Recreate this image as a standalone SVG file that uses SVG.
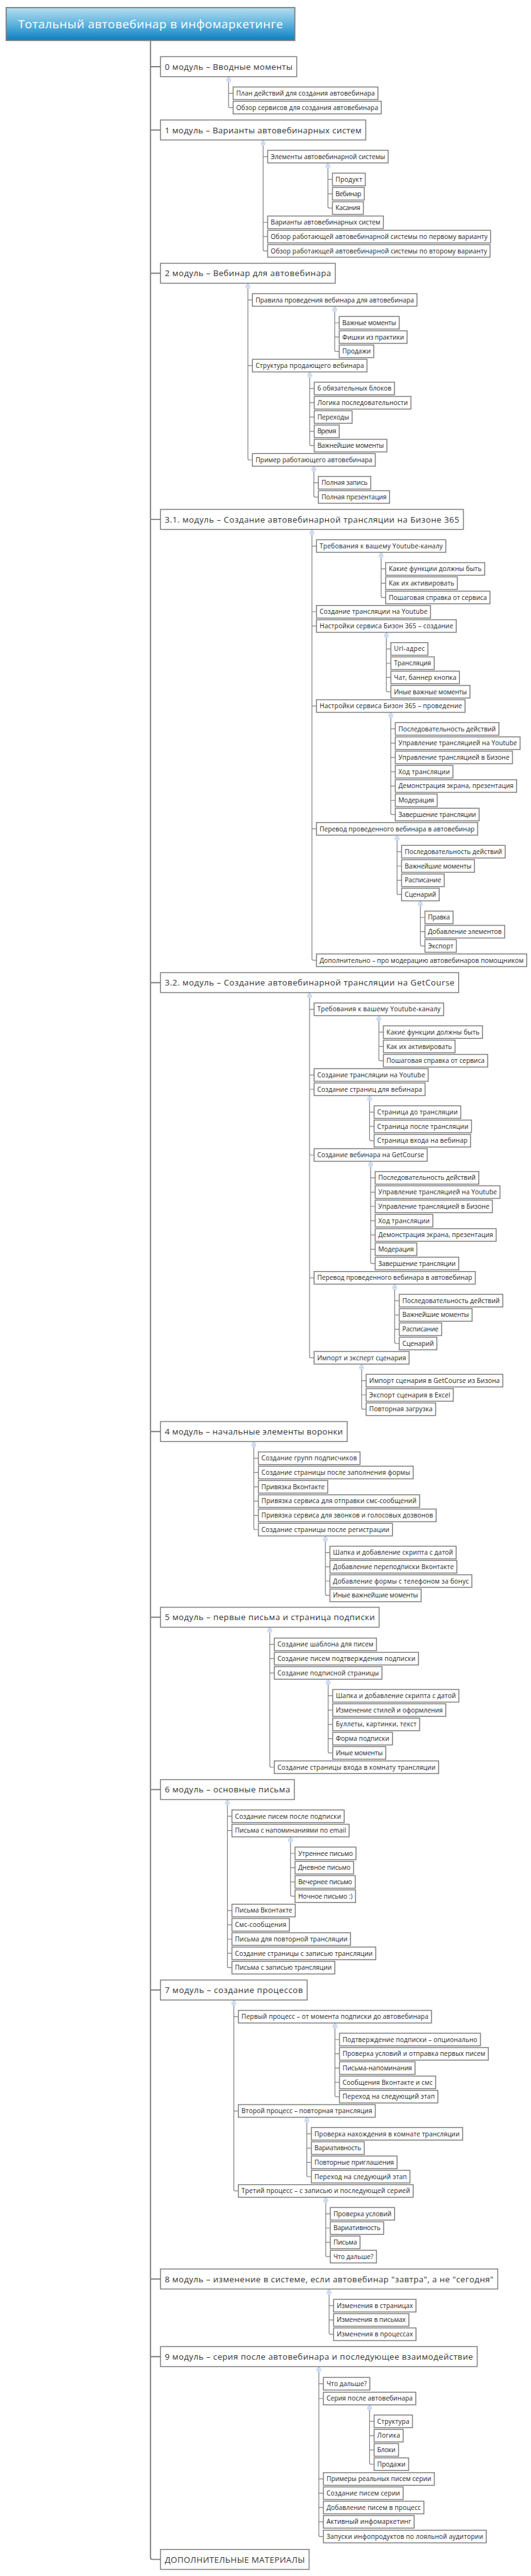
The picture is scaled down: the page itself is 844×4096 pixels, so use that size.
<svg xmlns="http://www.w3.org/2000/svg" xmlns:xlink="http://www.w3.org/1999/xlink" width="844" height="4096" viewBox="0 0 844 4096">
<defs>
<linearGradient id="tg" x1="0" y1="0" x2="0" y2="1">
<stop offset="0" stop-color="#b6deee"/><stop offset="0.5" stop-color="#5fb3de"/><stop offset="1" stop-color="#0a7fc1"/>
</linearGradient>
<g id="tog"><circle r="4.5" fill="#e2ecfc" stroke="#a9c1ea" stroke-width="1"/><path d="M-2.2 0H2.2" stroke="#7d9bd0" stroke-width="1"/></g>
<style>
.b{fill:#fff;stroke:#808080;stroke-width:2}
.t{font-family:'Open Sans','DejaVu Sans',sans-serif;font-size:13.5px;fill:#1e1e1e}
.m{font-size:17.5px;fill:#333}
.c{fill:none;stroke:#808080;stroke-width:1.6}
.tr{stroke-width:2.6}
</style>
</defs>
<rect width="844" height="4096" fill="#fff"/>
<g transform="scale(0.757)">
<g id="connectors">
<path class="c tr" d="M316 85V5372Q316 5376 320 5376H337M316 140H337M316 273H337M316 574H337M316 1091H337M316 2064H337M316 3007H337M316 3397H337M316 3759H337M316 4180H337M316 4787H337M316 4950H337"/>
<path class="c" d="M480 161V223Q480 226 483 226H489.5M480 196H489.5"/>
<path class="c" d="M552.5 294V524Q552.5 527 555.5 527H562M552.5 329H562M552.5 467H562M552.5 497H562"/>
<path class="c" d="M688.5 342.25V434Q688.5 437 691.5 437H698M688.5 377H698M688.5 407H698"/>
<path class="c" d="M520.5 595V963Q520.5 966 523.5 966H530M520.5 630H530M520.5 768H530"/>
<path class="c" d="M702.75 643.25V735Q702.75 738 705.75 738H712.25M702.75 678H712.25M702.75 708H712.25"/>
<path class="c" d="M650.3 781.25V933Q650.3 936 653.3 936H659.8M650.3 816H659.8M650.3 846H659.8M650.3 876H659.8M650.3 906H659.8"/>
<path class="c" d="M659 979.25V1041Q659 1044 662 1044H668.5M659 1014H668.5"/>
<path class="c" d="M655 1112V2014Q655 2017 658 2017H664.5M655 1147H664.5M655 1285H664.5M655 1315H664.5M655 1483H664.5M655 1741H664.5"/>
<path class="c" d="M800.25 1160.25V1252Q800.25 1255 803.25 1255H809.75M800.25 1195H809.75M800.25 1225H809.75"/>
<path class="c" d="M811.25 1328.25V1450Q811.25 1453 814.25 1453H820.75M811.25 1363H820.75M811.25 1393H820.75M811.25 1423H820.75"/>
<path class="c" d="M820.5 1496.25V1708Q820.5 1711 823.5 1711H830M820.5 1531H830M820.5 1561H830M820.5 1591H830M820.5 1621H830M820.5 1651H830M820.5 1681H830"/>
<path class="c" d="M833.75 1754.25V1876Q833.75 1879 836.75 1879H843.25M833.75 1789H843.25M833.75 1819H843.25M833.75 1849H843.25"/>
<path class="c" d="M882.75 1892.25V1984Q882.75 1987 885.75 1987H892.25M882.75 1927H892.25M882.75 1957H892.25"/>
<path class="c" d="M650 2085V2849Q650 2852 653 2852H659.5M650 2120H659.5M650 2258H659.5M650 2288H659.5M650 2426H659.5M650 2684H659.5"/>
<path class="c" d="M795.5 2133.25V2225Q795.5 2228 798.5 2228H805M795.5 2168H805M795.5 2198H805"/>
<path class="c" d="M776 2301.25V2393Q776 2396 779 2396H785.5M776 2336H785.5M776 2366H785.5"/>
<path class="c" d="M778.25 2439.25V2651Q778.25 2654 781.25 2654H787.75M778.25 2474H787.75M778.25 2504H787.75M778.25 2534H787.75M778.25 2564H787.75M778.25 2594H787.75M778.25 2624H787.75"/>
<path class="c" d="M828.75 2697.25V2819Q828.75 2822 831.75 2822H838.25M828.75 2732H838.25M828.75 2762H838.25M828.75 2792H838.25"/>
<path class="c" d="M759.25 2865.25V2957Q759.25 2960 762.25 2960H768.75M759.25 2900H768.75M759.25 2930H768.75"/>
<path class="c" d="M533 3028V3210Q533 3213 536 3213H542.5M533 3063H542.5M533 3093H542.5M533 3123H542.5M533 3153H542.5M533 3183H542.5"/>
<path class="c" d="M683.25 3226.25V3348Q683.25 3351 686.25 3351H692.75M683.25 3261H692.75M683.25 3291H692.75M683.25 3321H692.75"/>
<path class="c" d="M566.5 3418V3709Q566.5 3712 569.5 3712H576M566.5 3454H576M566.5 3484H576M566.5 3514H576"/>
<path class="c" d="M689 3527.25V3679Q689 3682 692 3682H698.5M689 3562H698.5M689 3592H698.5M689 3622H698.5M689 3652H698.5"/>
<path class="c" d="M477.5 3780V4130Q477.5 4133 480.5 4133H487M477.5 3815H487M477.5 3845H487M477.5 4013H487M477.5 4043H487M477.5 4073H487M477.5 4103H487"/>
<path class="c" d="M610 3858.25V3980Q610 3983 613 3983H619.5M610 3893H619.5M610 3923H619.5M610 3953H619.5"/>
<path class="c" d="M491 4201V4599Q491 4602 494 4602H500.5M491 4236H500.5M491 4434H500.5"/>
<path class="c" d="M703.25 4249.25V4401Q703.25 4404 706.25 4404H712.75M703.25 4284H712.75M703.25 4314H712.75M703.25 4344H712.75M703.25 4374H712.75"/>
<path class="c" d="M644.25 4447.25V4569Q644.25 4572 647.25 4572H653.75M644.25 4482H653.75M644.25 4512H653.75M644.25 4542H653.75"/>
<path class="c" d="M684 4615.25V4737Q684 4740 687 4740H693.5M684 4650H693.5M684 4680H693.5M684 4710H693.5"/>
<path class="c" d="M691 4808V4900Q691 4903 694 4903H700.5M691 4843H700.5M691 4873H700.5"/>
<path class="c" d="M669.5 4971V5325Q669.5 5328 672.5 5328H679M669.5 5007H679M669.5 5038H679M669.5 5207H679M669.5 5237H679M669.5 5267H679M669.5 5297H679"/>
<path class="c" d="M776 5051.25V5173Q776 5176 779 5176H785.5M776 5086H785.5M776 5116H785.5M776 5146H785.5"/>
<use xlink:href="#tog" x="480" y="168"/><use xlink:href="#tog" x="552.5" y="301"/><use xlink:href="#tog" x="688.5" y="349.25"/><use xlink:href="#tog" x="520.5" y="602"/><use xlink:href="#tog" x="702.75" y="650.25"/><use xlink:href="#tog" x="650.3" y="788.25"/><use xlink:href="#tog" x="659" y="986.25"/><use xlink:href="#tog" x="655" y="1119"/><use xlink:href="#tog" x="800.25" y="1167.25"/><use xlink:href="#tog" x="811.25" y="1335.25"/><use xlink:href="#tog" x="820.5" y="1503.25"/><use xlink:href="#tog" x="833.75" y="1761.25"/><use xlink:href="#tog" x="882.75" y="1899.25"/><use xlink:href="#tog" x="650" y="2092"/><use xlink:href="#tog" x="795.5" y="2140.25"/><use xlink:href="#tog" x="776" y="2308.25"/><use xlink:href="#tog" x="778.25" y="2446.25"/><use xlink:href="#tog" x="828.75" y="2704.25"/><use xlink:href="#tog" x="759.25" y="2872.25"/><use xlink:href="#tog" x="533" y="3035"/><use xlink:href="#tog" x="683.25" y="3233.25"/><use xlink:href="#tog" x="566.5" y="3425"/><use xlink:href="#tog" x="689" y="3534.25"/><use xlink:href="#tog" x="477.5" y="3787"/><use xlink:href="#tog" x="610" y="3865.25"/><use xlink:href="#tog" x="491" y="4208"/><use xlink:href="#tog" x="703.25" y="4256.25"/><use xlink:href="#tog" x="644.25" y="4454.25"/><use xlink:href="#tog" x="684" y="4622.25"/><use xlink:href="#tog" x="691" y="4815"/><use xlink:href="#tog" x="669.5" y="4978"/><use xlink:href="#tog" x="776" y="5058.25"/>
</g>
<g id="title"><rect x="13" y="16" width="606" height="69" fill="url(#tg)" stroke="#808080" stroke-width="2.5"/><text class="t" x="316" y="59.5" text-anchor="middle" style="font-size:25px;fill:#fff" textLength="556">Тотальный автовебинар в инфомаркетинге</text></g>
<g id="m0"><rect class="b" x="337" y="119" width="286" height="42"/><text class="t m" x="346" y="146.5" textLength="268">0 модуль – Вводные моменты</text></g>
<g id="n1"><rect class="b" x="489.5" y="182.75" width="304" height="26.5"/><text class="t" x="496" y="200.8" textLength="291">План действий для создания автовебинара</text></g>
<g id="n2"><rect class="b" x="489.5" y="212.75" width="311" height="26.5"/><text class="t" x="496" y="230.8" textLength="298">Обзор сервисов для создания автовебинара</text></g>
<g id="m1"><rect class="b" x="337" y="252" width="431" height="42"/><text class="t m" x="346" y="279.5" textLength="413">1 модуль – Варианты автовебинарных систем</text></g>
<g id="n3"><rect class="b" x="562" y="315.75" width="253" height="26.5"/><text class="t" x="568.5" y="333.8" textLength="240">Элементы автовебинарной системы</text></g>
<g id="n4"><rect class="b" x="698" y="363.75" width="69" height="26.5"/><text class="t" x="704.5" y="381.8" textLength="56">Продукт</text></g>
<g id="n5"><rect class="b" x="698" y="393.75" width="67" height="26.5"/><text class="t" x="704.5" y="411.8" textLength="54">Вебинар</text></g>
<g id="n6"><rect class="b" x="698" y="423.75" width="65" height="26.5"/><text class="t" x="704.5" y="441.8" textLength="52">Касания</text></g>
<g id="n7"><rect class="b" x="562" y="453.75" width="243" height="26.5"/><text class="t" x="568.5" y="471.8" textLength="230">Варианты автовебинарных систем</text></g>
<g id="n8"><rect class="b" x="562" y="483.75" width="468" height="26.5"/><text class="t" x="568.5" y="501.8" textLength="455">Обзор работающей автовебинарной системы по первому варианту</text></g>
<g id="n9"><rect class="b" x="562" y="513.75" width="467" height="26.5"/><text class="t" x="568.5" y="531.8" textLength="454">Обзор работающей автовебинарной системы по второму варианту</text></g>
<g id="m2"><rect class="b" x="337" y="553" width="367" height="42"/><text class="t m" x="346" y="580.5" textLength="349">2 модуль – Вебинар для автовебинара</text></g>
<g id="n10"><rect class="b" x="530" y="616.75" width="345.5" height="26.5"/><text class="t" x="536.5" y="634.8" textLength="332.5">Правила проведения вебинара для автовебинара</text></g>
<g id="n11"><rect class="b" x="712.25" y="664.75" width="126" height="26.5"/><text class="t" x="718.75" y="682.8" textLength="113">Важные моменты</text></g>
<g id="n12"><rect class="b" x="712.25" y="694.75" width="142.5" height="26.5"/><text class="t" x="718.75" y="712.8" textLength="129.5">Фишки из практики</text></g>
<g id="n13"><rect class="b" x="712.25" y="724.75" width="72.5" height="26.5"/><text class="t" x="718.75" y="742.8" textLength="59.5">Продажи</text></g>
<g id="n14"><rect class="b" x="530" y="754.75" width="240.6" height="26.5"/><text class="t" x="536.5" y="772.8" textLength="227.6">Структура продающего вебинара</text></g>
<g id="n15"><rect class="b" x="659.8" y="802.75" width="168.5" height="26.5"/><text class="t" x="666.3" y="820.8" textLength="155.5">6 обязательных блоков</text></g>
<g id="n16"><rect class="b" x="659.8" y="832.75" width="203" height="26.5"/><text class="t" x="666.3" y="850.8" textLength="190">Логика последовательности</text></g>
<g id="n17"><rect class="b" x="659.8" y="862.75" width="79.5" height="26.5"/><text class="t" x="666.3" y="880.8" textLength="66.5">Переходы</text></g>
<g id="n18"><rect class="b" x="659.8" y="892.75" width="52.5" height="26.5"/><text class="t" x="666.3" y="910.8" textLength="39.5">Время</text></g>
<g id="n19"><rect class="b" x="659.8" y="922.75" width="152.5" height="26.5"/><text class="t" x="666.3" y="940.8" textLength="139.5">Важнейшие моменты</text></g>
<g id="n20"><rect class="b" x="530" y="952.75" width="258" height="26.5"/><text class="t" x="536.5" y="970.8" textLength="245">Пример работающего автовебинара</text></g>
<g id="n21"><rect class="b" x="668.5" y="1000.75" width="110" height="26.5"/><text class="t" x="675" y="1018.8" textLength="97">Полная запись</text></g>
<g id="n22"><rect class="b" x="668.5" y="1030.75" width="149.5" height="26.5"/><text class="t" x="675" y="1048.8" textLength="136.5">Полная презентация</text></g>
<g id="m31"><rect class="b" x="337" y="1070" width="636" height="42"/><text class="t m" x="346" y="1097.5" textLength="618">3.1. модуль – Создание автовебинарной трансляции на Бизоне 365</text></g>
<g id="n23"><rect class="b" x="664.5" y="1133.75" width="271.5" height="26.5"/><text class="t" x="671" y="1151.8" textLength="258.5">Требования к вашему Youtube-каналу</text></g>
<g id="n24"><rect class="b" x="809.75" y="1181.75" width="208" height="26.5"/><text class="t" x="816.25" y="1199.8" textLength="195">Какие функции должны быть</text></g>
<g id="n25"><rect class="b" x="809.75" y="1211.75" width="150.5" height="26.5"/><text class="t" x="816.25" y="1229.8" textLength="137.5">Как их активировать</text></g>
<g id="n26"><rect class="b" x="809.75" y="1241.75" width="219" height="26.5"/><text class="t" x="816.25" y="1259.8" textLength="206">Пошаговая справка от сервиса</text></g>
<g id="n27"><rect class="b" x="664.5" y="1271.75" width="239.5" height="26.5"/><text class="t" x="671" y="1289.8" textLength="226.5">Создание трансляции на Youtube</text></g>
<g id="n28"><rect class="b" x="664.5" y="1301.75" width="293.5" height="26.5"/><text class="t" x="671" y="1319.8" textLength="280.5">Настройки сервиса Бизон 365 – создание</text></g>
<g id="n29"><rect class="b" x="820.75" y="1349.75" width="77.6" height="26.5"/><text class="t" x="827.25" y="1367.8" textLength="64.6">Url-адрес</text></g>
<g id="n30"><rect class="b" x="820.75" y="1379.75" width="91" height="26.5"/><text class="t" x="827.25" y="1397.8" textLength="78">Трансляция</text></g>
<g id="n31"><rect class="b" x="820.75" y="1409.75" width="144" height="26.5"/><text class="t" x="827.25" y="1427.8" textLength="131">Чат, баннер кнопка</text></g>
<g id="n32"><rect class="b" x="820.75" y="1439.75" width="166" height="26.5"/><text class="t" x="827.25" y="1457.8" textLength="153">Иные важные моменты</text></g>
<g id="n33"><rect class="b" x="664.5" y="1469.75" width="312" height="26.5"/><text class="t" x="671" y="1487.8" textLength="299">Настройки сервиса Бизон 365 – проведение</text></g>
<g id="n34"><rect class="b" x="830" y="1517.75" width="217.6" height="26.5"/><text class="t" x="836.5" y="1535.8" textLength="204.6">Последовательность действий</text></g>
<g id="n35"><rect class="b" x="830" y="1547.75" width="262" height="26.5"/><text class="t" x="836.5" y="1565.8" textLength="249">Управление трансляцией на Youtube</text></g>
<g id="n36"><rect class="b" x="830" y="1577.75" width="246" height="26.5"/><text class="t" x="836.5" y="1595.8" textLength="233">Управление трансляцией в Бизоне</text></g>
<g id="n37"><rect class="b" x="830" y="1607.75" width="121" height="26.5"/><text class="t" x="836.5" y="1625.8" textLength="108">Ход трансляции</text></g>
<g id="n38"><rect class="b" x="830" y="1637.75" width="254.7" height="26.5"/><text class="t" x="836.5" y="1655.8" textLength="241.7">Демонстрация экрана, презентация</text></g>
<g id="n39"><rect class="b" x="830" y="1667.75" width="88" height="26.5"/><text class="t" x="836.5" y="1685.8" textLength="75">Модерация</text></g>
<g id="n40"><rect class="b" x="830" y="1697.75" width="176" height="26.5"/><text class="t" x="836.5" y="1715.8" textLength="163">Завершение трансляции</text></g>
<g id="n41"><rect class="b" x="664.5" y="1727.75" width="338.5" height="26.5"/><text class="t" x="671" y="1745.8" textLength="325.5">Перевод проведенного вебинара в автовебинар</text></g>
<g id="n42"><rect class="b" x="843.25" y="1775.75" width="217.5" height="26.5"/><text class="t" x="849.75" y="1793.8" textLength="204.5">Последовательность действий</text></g>
<g id="n43"><rect class="b" x="843.25" y="1805.75" width="153" height="26.5"/><text class="t" x="849.75" y="1823.8" textLength="140">Важнейшие моменты</text></g>
<g id="n44"><rect class="b" x="843.25" y="1835.75" width="89.5" height="26.5"/><text class="t" x="849.75" y="1853.8" textLength="76.5">Расписание</text></g>
<g id="n45"><rect class="b" x="843.25" y="1865.75" width="79" height="26.5"/><text class="t" x="849.75" y="1883.8" textLength="66">Сценарий</text></g>
<g id="n46"><rect class="b" x="892.25" y="1913.75" width="59" height="26.5"/><text class="t" x="898.75" y="1931.8" textLength="46">Правка</text></g>
<g id="n47"><rect class="b" x="892.25" y="1943.75" width="167.5" height="26.5"/><text class="t" x="898.75" y="1961.8" textLength="154.5">Добавление элементов</text></g>
<g id="n48"><rect class="b" x="892.25" y="1973.75" width="66" height="26.5"/><text class="t" x="898.75" y="1991.8" textLength="53">Экспорт</text></g>
<g id="n49"><rect class="b" x="664.5" y="2003.75" width="441.5" height="26.5"/><text class="t" x="671" y="2021.8" textLength="428.5">Дополнительно – про модерацию автовебинаров помощником</text></g>
<g id="m32"><rect class="b" x="337" y="2043" width="626" height="42"/><text class="t m" x="346" y="2070.5" textLength="608">3.2. модуль – Создание автовебинарной трансляции на GetCourse</text></g>
<g id="n50"><rect class="b" x="659.5" y="2106.75" width="272" height="26.5"/><text class="t" x="666" y="2124.8" textLength="259">Требования к вашему Youtube-каналу</text></g>
<g id="n51"><rect class="b" x="805" y="2154.75" width="208" height="26.5"/><text class="t" x="811.5" y="2172.8" textLength="195">Какие функции должны быть</text></g>
<g id="n52"><rect class="b" x="805" y="2184.75" width="150.5" height="26.5"/><text class="t" x="811.5" y="2202.8" textLength="137.5">Как их активировать</text></g>
<g id="n53"><rect class="b" x="805" y="2214.75" width="219" height="26.5"/><text class="t" x="811.5" y="2232.8" textLength="206">Пошаговая справка от сервиса</text></g>
<g id="n54"><rect class="b" x="659.5" y="2244.75" width="239.5" height="26.5"/><text class="t" x="666" y="2262.8" textLength="226.5">Создание трансляции на Youtube</text></g>
<g id="n55"><rect class="b" x="659.5" y="2274.75" width="233" height="26.5"/><text class="t" x="666" y="2292.8" textLength="220">Создание страниц для вебинара</text></g>
<g id="n56"><rect class="b" x="785.5" y="2322.75" width="182" height="26.5"/><text class="t" x="792" y="2340.8" textLength="169">Страница до трансляции</text></g>
<g id="n57"><rect class="b" x="785.5" y="2352.75" width="204.5" height="26.5"/><text class="t" x="792" y="2370.8" textLength="191.5">Страница после трансляции</text></g>
<g id="n58"><rect class="b" x="785.5" y="2382.75" width="202.5" height="26.5"/><text class="t" x="792" y="2400.8" textLength="189.5">Страница входа на вебинар</text></g>
<g id="n59"><rect class="b" x="659.5" y="2412.75" width="237.5" height="26.5"/><text class="t" x="666" y="2430.8" textLength="224.5">Создание вебинара на GetCourse</text></g>
<g id="n60"><rect class="b" x="787.75" y="2460.75" width="217.5" height="26.5"/><text class="t" x="794.25" y="2478.8" textLength="204.5">Последовательность действий</text></g>
<g id="n61"><rect class="b" x="787.75" y="2490.75" width="262" height="26.5"/><text class="t" x="794.25" y="2508.8" textLength="249">Управление трансляцией на Youtube</text></g>
<g id="n62"><rect class="b" x="787.75" y="2520.75" width="246" height="26.5"/><text class="t" x="794.25" y="2538.8" textLength="233">Управление трансляцией в Бизоне</text></g>
<g id="n63"><rect class="b" x="787.75" y="2550.75" width="121" height="26.5"/><text class="t" x="794.25" y="2568.8" textLength="108">Ход трансляции</text></g>
<g id="n64"><rect class="b" x="787.75" y="2580.75" width="254" height="26.5"/><text class="t" x="794.25" y="2598.8" textLength="241">Демонстрация экрана, презентация</text></g>
<g id="n65"><rect class="b" x="787.75" y="2610.75" width="87.5" height="26.5"/><text class="t" x="794.25" y="2628.8" textLength="74.5">Модерация</text></g>
<g id="n66"><rect class="b" x="787.75" y="2640.75" width="175.5" height="26.5"/><text class="t" x="794.25" y="2658.8" textLength="162.5">Завершение трансляции</text></g>
<g id="n67"><rect class="b" x="659.5" y="2670.75" width="338.5" height="26.5"/><text class="t" x="666" y="2688.8" textLength="325.5">Перевод проведенного вебинара в автовебинар</text></g>
<g id="n68"><rect class="b" x="838.25" y="2718.75" width="217.5" height="26.5"/><text class="t" x="844.75" y="2736.8" textLength="204.5">Последовательность действий</text></g>
<g id="n69"><rect class="b" x="838.25" y="2748.75" width="153" height="26.5"/><text class="t" x="844.75" y="2766.8" textLength="140">Важнейшие моменты</text></g>
<g id="n70"><rect class="b" x="838.25" y="2778.75" width="89" height="26.5"/><text class="t" x="844.75" y="2796.8" textLength="76">Расписание</text></g>
<g id="n71"><rect class="b" x="838.25" y="2808.75" width="79" height="26.5"/><text class="t" x="844.75" y="2826.8" textLength="66">Сценарий</text></g>
<g id="n72"><rect class="b" x="659.5" y="2838.75" width="199.5" height="26.5"/><text class="t" x="666" y="2856.8" textLength="186.5">Импорт и эксперт сценария</text></g>
<g id="n73"><rect class="b" x="768.75" y="2886.75" width="287" height="26.5"/><text class="t" x="775.25" y="2904.8" textLength="274">Импорт сценария в GetCourse из Бизона</text></g>
<g id="n74"><rect class="b" x="768.75" y="2916.75" width="183" height="26.5"/><text class="t" x="775.25" y="2934.8" textLength="170">Экспорт сценария в Excel</text></g>
<g id="n75"><rect class="b" x="768.75" y="2946.75" width="146" height="26.5"/><text class="t" x="775.25" y="2964.8" textLength="133">Повторная загрузка</text></g>
<g id="m4"><rect class="b" x="337" y="2986" width="392" height="42"/><text class="t m" x="346" y="3013.5" textLength="374">4 модуль – начальные элементы воронки</text></g>
<g id="n76"><rect class="b" x="542.5" y="3049.75" width="213.5" height="26.5"/><text class="t" x="549" y="3067.8" textLength="200.5">Создание групп подписчиков</text></g>
<g id="n77"><rect class="b" x="542.5" y="3079.75" width="325" height="26.5"/><text class="t" x="549" y="3097.8" textLength="312">Создание страницы после заполнения формы</text></g>
<g id="n78"><rect class="b" x="542.5" y="3109.75" width="145.5" height="26.5"/><text class="t" x="549" y="3127.8" textLength="132.5">Привязка Вконтакте</text></g>
<g id="n79"><rect class="b" x="542.5" y="3139.75" width="338.5" height="26.5"/><text class="t" x="549" y="3157.8" textLength="325.5">Привязка сервиса для отправки смс-сообщений</text></g>
<g id="n80"><rect class="b" x="542.5" y="3169.75" width="373.3" height="26.5"/><text class="t" x="549" y="3187.8" textLength="360.3">Привязка сервиса для звонков и голосовых дозвонов</text></g>
<g id="n81"><rect class="b" x="542.5" y="3199.75" width="281.5" height="26.5"/><text class="t" x="549" y="3217.8" textLength="268.5">Создание страницы после регистрации</text></g>
<g id="n82"><rect class="b" x="692.75" y="3247.75" width="265" height="26.5"/><text class="t" x="699.25" y="3265.8" textLength="252">Шапка и добавление скрипта с датой</text></g>
<g id="n83"><rect class="b" x="692.75" y="3277.75" width="266.5" height="26.5"/><text class="t" x="699.25" y="3295.8" textLength="253.5">Добавление переподписки Вконтакте</text></g>
<g id="n84"><rect class="b" x="692.75" y="3307.75" width="298" height="26.5"/><text class="t" x="699.25" y="3325.8" textLength="285">Добавление формы с телефоном за бонус</text></g>
<g id="n85"><rect class="b" x="692.75" y="3337.75" width="191.5" height="26.5"/><text class="t" x="699.25" y="3355.8" textLength="178.5">Иные важнейшие моменты</text></g>
<g id="m5"><rect class="b" x="337" y="3376" width="459" height="42"/><text class="t m" x="346" y="3403.5" textLength="441">5 модуль – первые письма и страница подписки</text></g>
<g id="n86"><rect class="b" x="576" y="3440.75" width="214.5" height="26.5"/><text class="t" x="582.5" y="3458.8" textLength="201.5">Создание шаблона для писем</text></g>
<g id="n87"><rect class="b" x="576" y="3470.75" width="302.7" height="26.5"/><text class="t" x="582.5" y="3488.8" textLength="289.7">Создание писем подтверждения подписки</text></g>
<g id="n88"><rect class="b" x="576" y="3500.75" width="226" height="26.5"/><text class="t" x="582.5" y="3518.8" textLength="213">Создание подписной страницы</text></g>
<g id="n89"><rect class="b" x="698.5" y="3548.75" width="265" height="26.5"/><text class="t" x="705" y="3566.8" textLength="252">Шапка и добавление скрипта с датой</text></g>
<g id="n90"><rect class="b" x="698.5" y="3578.75" width="237.5" height="26.5"/><text class="t" x="705" y="3596.8" textLength="224.5">Изменение стилей и оформления</text></g>
<g id="n91"><rect class="b" x="698.5" y="3608.75" width="182.5" height="26.5"/><text class="t" x="705" y="3626.8" textLength="169.5">Буллеты, картинки, текст</text></g>
<g id="n92"><rect class="b" x="698.5" y="3638.75" width="125.5" height="26.5"/><text class="t" x="705" y="3656.8" textLength="112.5">Форма подписки</text></g>
<g id="n93"><rect class="b" x="698.5" y="3668.75" width="111.5" height="26.5"/><text class="t" x="705" y="3686.8" textLength="98.5">Иные моменты</text></g>
<g id="n94"><rect class="b" x="576" y="3698.75" width="345" height="26.5"/><text class="t" x="582.5" y="3716.8" textLength="332">Создание страницы входа в комнату трансляции</text></g>
<g id="m6"><rect class="b" x="337" y="3738" width="281" height="42"/><text class="t m" x="346" y="3765.5" textLength="263">6 модуль – основные письма</text></g>
<g id="n95"><rect class="b" x="487" y="3801.75" width="235.7" height="26.5"/><text class="t" x="493.5" y="3819.8" textLength="222.7">Создание писем после подписки</text></g>
<g id="n96"><rect class="b" x="487" y="3831.75" width="246" height="26.5"/><text class="t" x="493.5" y="3849.8" textLength="233">Письма с напоминаниями по email</text></g>
<g id="n97"><rect class="b" x="619.5" y="3879.75" width="128" height="26.5"/><text class="t" x="626" y="3897.8" textLength="115">Утреннее письмо</text></g>
<g id="n98"><rect class="b" x="619.5" y="3909.75" width="123" height="26.5"/><text class="t" x="626" y="3927.8" textLength="110">Дневное письмо</text></g>
<g id="n99"><rect class="b" x="619.5" y="3939.75" width="126.4" height="26.5"/><text class="t" x="626" y="3957.8" textLength="113.4">Вечернее письмо</text></g>
<g id="n100"><rect class="b" x="619.5" y="3969.75" width="127" height="26.5"/><text class="t" x="626" y="3987.8" textLength="114">Ночное письмо :)</text></g>
<g id="n101"><rect class="b" x="487" y="3999.75" width="133" height="26.5"/><text class="t" x="493.5" y="4017.8" textLength="120">Письма Вконтакте</text></g>
<g id="n102"><rect class="b" x="487" y="4029.75" width="120.6" height="26.5"/><text class="t" x="493.5" y="4047.8" textLength="107.6">Смс-сообщения</text></g>
<g id="n103"><rect class="b" x="487" y="4059.75" width="249" height="26.5"/><text class="t" x="493.5" y="4077.8" textLength="236">Письма для повторной трансляции</text></g>
<g id="n104"><rect class="b" x="487" y="4089.75" width="302" height="26.5"/><text class="t" x="493.5" y="4107.8" textLength="289">Создание страницы с записью трансляции</text></g>
<g id="n105"><rect class="b" x="487" y="4119.75" width="216" height="26.5"/><text class="t" x="493.5" y="4137.8" textLength="203">Письма с записью трансляции</text></g>
<g id="m7"><rect class="b" x="337" y="4159" width="308" height="42"/><text class="t m" x="346" y="4186.5" textLength="290">7 модуль – создание процессов</text></g>
<g id="n106"><rect class="b" x="500.5" y="4222.75" width="405.5" height="26.5"/><text class="t" x="507" y="4240.8" textLength="392.5">Первый процесс – от момента подписки до автовебинара</text></g>
<g id="n107"><rect class="b" x="712.75" y="4270.75" width="296" height="26.5"/><text class="t" x="719.25" y="4288.8" textLength="283">Подтверждение подписки – опционально</text></g>
<g id="n108"><rect class="b" x="712.75" y="4300.75" width="312.6" height="26.5"/><text class="t" x="719.25" y="4318.8" textLength="299.6">Проверка условий и отправка первых писем</text></g>
<g id="n109"><rect class="b" x="712.75" y="4330.75" width="158.7" height="26.5"/><text class="t" x="719.25" y="4348.8" textLength="145.7">Письма-напоминания</text></g>
<g id="n110"><rect class="b" x="712.75" y="4360.75" width="202" height="26.5"/><text class="t" x="719.25" y="4378.8" textLength="189">Сообщения Вконтакте и смс</text></g>
<g id="n111"><rect class="b" x="712.75" y="4390.75" width="206.6" height="26.5"/><text class="t" x="719.25" y="4408.8" textLength="193.6">Переход на следующий этап</text></g>
<g id="n112"><rect class="b" x="500.5" y="4420.75" width="287.5" height="26.5"/><text class="t" x="507" y="4438.8" textLength="274.5">Второй процесс – повторная трансляция</text></g>
<g id="n113"><rect class="b" x="653.75" y="4468.75" width="317.7" height="26.5"/><text class="t" x="660.25" y="4486.8" textLength="304.7">Проверка нахождения в комнате трансляции</text></g>
<g id="n114"><rect class="b" x="653.75" y="4498.75" width="111" height="26.5"/><text class="t" x="660.25" y="4516.8" textLength="98">Вариативность</text></g>
<g id="n115"><rect class="b" x="653.75" y="4528.75" width="180" height="26.5"/><text class="t" x="660.25" y="4546.8" textLength="167">Повторные приглашения</text></g>
<g id="n116"><rect class="b" x="653.75" y="4558.75" width="207" height="26.5"/><text class="t" x="660.25" y="4576.8" textLength="194">Переход на следующий этап</text></g>
<g id="n117"><rect class="b" x="500.5" y="4588.75" width="367" height="26.5"/><text class="t" x="507" y="4606.8" textLength="354">Третий процесс – с записью и последующей серией</text></g>
<g id="n118"><rect class="b" x="693.5" y="4636.75" width="135" height="26.5"/><text class="t" x="700" y="4654.8" textLength="122">Проверка условий</text></g>
<g id="n119"><rect class="b" x="693.5" y="4666.75" width="112" height="26.5"/><text class="t" x="700" y="4684.8" textLength="99">Вариативность</text></g>
<g id="n120"><rect class="b" x="693.5" y="4696.75" width="62.5" height="26.5"/><text class="t" x="700" y="4714.8" textLength="49.5">Письма</text></g>
<g id="n121"><rect class="b" x="693.5" y="4726.75" width="97" height="26.5"/><text class="t" x="700" y="4744.8" textLength="84">Что дальше?</text></g>
<g id="m8"><rect class="b" x="337" y="4766" width="708" height="42"/><text class="t m" x="346" y="4793.5" textLength="690">8 модуль – изменение в системе, если автовебинар "завтра", а не "сегодня"</text></g>
<g id="n122"><rect class="b" x="700.5" y="4829.75" width="173" height="26.5"/><text class="t" x="707" y="4847.8" textLength="160">Изменения в страницах</text></g>
<g id="n123"><rect class="b" x="700.5" y="4859.75" width="158" height="26.5"/><text class="t" x="707" y="4877.8" textLength="145">Изменения в письмах</text></g>
<g id="n124"><rect class="b" x="700.5" y="4889.75" width="173" height="26.5"/><text class="t" x="707" y="4907.8" textLength="160">Изменения в процессах</text></g>
<g id="m9"><rect class="b" x="337" y="4929" width="665" height="42"/><text class="t m" x="346" y="4956.5" textLength="647">9 модуль – серия после автовебинара и последующее взаимодействие</text></g>
<g id="n125"><rect class="b" x="679" y="4993.75" width="97.5" height="26.5"/><text class="t" x="685.5" y="5011.8" textLength="84.5">Что дальше?</text></g>
<g id="n126"><rect class="b" x="679" y="5024.75" width="194" height="26.5"/><text class="t" x="685.5" y="5042.8" textLength="181">Серия после автовебинара</text></g>
<g id="n127"><rect class="b" x="785.5" y="5072.75" width="80.5" height="26.5"/><text class="t" x="792" y="5090.8" textLength="67.5">Структура</text></g>
<g id="n128"><rect class="b" x="785.5" y="5102.75" width="61" height="26.5"/><text class="t" x="792" y="5120.8" textLength="48">Логика</text></g>
<g id="n129"><rect class="b" x="785.5" y="5132.75" width="51.3" height="26.5"/><text class="t" x="792" y="5150.8" textLength="38.3">Блоки</text></g>
<g id="n130"><rect class="b" x="785.5" y="5162.75" width="72.5" height="26.5"/><text class="t" x="792" y="5180.8" textLength="59.5">Продажи</text></g>
<g id="n131"><rect class="b" x="679" y="5193.75" width="233" height="26.5"/><text class="t" x="685.5" y="5211.8" textLength="220">Примеры реальных писем серии</text></g>
<g id="n132"><rect class="b" x="679" y="5223.75" width="167.4" height="26.5"/><text class="t" x="685.5" y="5241.8" textLength="154.4">Создание писем серии</text></g>
<g id="n133"><rect class="b" x="679" y="5253.75" width="211" height="26.5"/><text class="t" x="685.5" y="5271.8" textLength="198">Добавление писем в процесс</text></g>
<g id="n134"><rect class="b" x="679" y="5283.75" width="190.6" height="26.5"/><text class="t" x="685.5" y="5301.8" textLength="177.6">Активный инфомаркетинг</text></g>
<g id="n135"><rect class="b" x="679" y="5314.75" width="342" height="26.5"/><text class="t" x="685.5" y="5332.8" textLength="329">Запуски инфопродуктов по лояльной аудитории</text></g>
<g id="md"><rect class="b" x="337" y="5355" width="312" height="42"/><text class="t m" x="346" y="5382.5" textLength="294">ДОПОЛНИТЕЛЬНЫЕ МАТЕРИАЛЫ</text></g>
</g>
</svg>
